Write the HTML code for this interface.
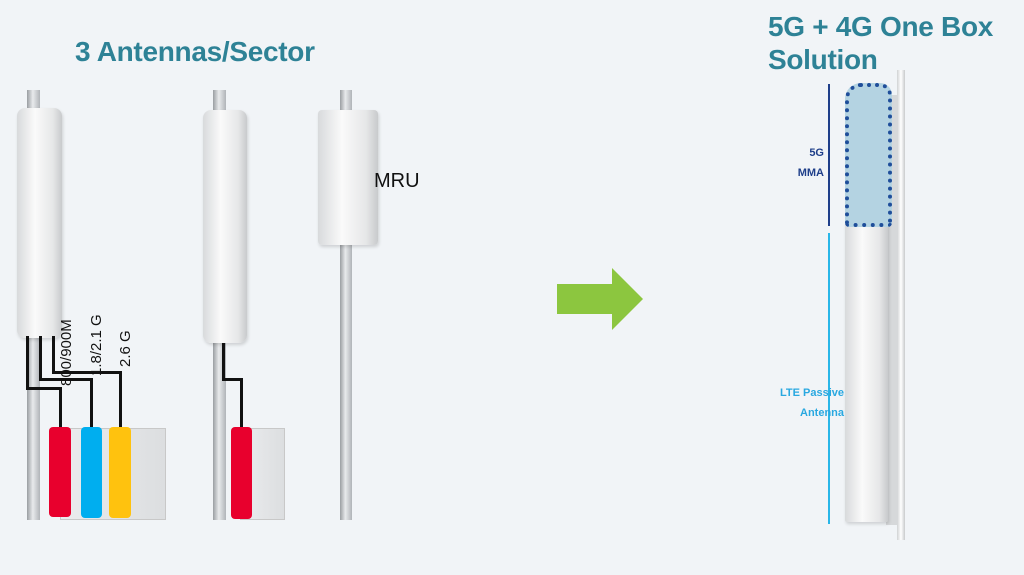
<!DOCTYPE html><html><head><style>
body{margin:0;width:1024px;height:575px;background:#f1f4f7;position:relative;overflow:hidden;font-family:"Liberation Sans",sans-serif}
.a{position:absolute}
.pole{position:absolute;background:linear-gradient(90deg,#9a9ea2,#e8eaec 45%,#b0b4b8);}
.ant{position:absolute;border-radius:8px;background:linear-gradient(90deg,#d8dadc,#fafafa 40%,#e6e7e8 80%,#c8cacc);box-shadow:1px 2px 3px rgba(0,0,0,.15)}
.k{position:absolute;background:#111}
.rb{position:absolute;border-radius:4px}
.gb{position:absolute;background:linear-gradient(90deg,#ebecee,#dcdee0);border:1px solid #c8c8c8}
.rot{position:absolute;transform:rotate(-90deg);transform-origin:left top;font-size:15px;color:#111;white-space:nowrap}
</style></head><body>
<div class="a" style="left:75px;top:36px;font-size:28px;font-weight:bold;color:#2e8296;letter-spacing:-0.3px">3 Antennas/Sector</div>
<div class="a" style="left:768px;top:10px;font-size:28px;font-weight:bold;color:#2e8296;line-height:33px;letter-spacing:-0.3px">5G + 4G One Box<br>Solution</div>

<div class="pole" style="left:27px;top:90px;width:13px;height:430px"></div>
<div class="pole" style="left:213px;top:90px;width:13px;height:430px"></div>
<div class="pole" style="left:340px;top:90px;width:12px;height:430px"></div>
<div class="ant" style="left:17px;top:108px;width:45px;height:230px"></div>
<div class="ant" style="left:203px;top:110px;width:44px;height:233px"></div>
<div class="ant" style="left:318px;top:110px;width:60px;height:135px;border-radius:4px"></div>
<div class="a" style="left:374px;top:170px;font-size:20px;color:#111">MRU</div>

<div class="gb" style="left:60px;top:428px;width:104px;height:90px"></div>
<div class="gb" style="left:240px;top:428px;width:43px;height:90px"></div>

<div class="k" style="left:26px;top:336px;width:3px;height:54px"></div>
<div class="k" style="left:26px;top:387px;width:36px;height:3px"></div>
<div class="k" style="left:59px;top:387px;width:3px;height:42px"></div>
<div class="k" style="left:39px;top:336px;width:3px;height:45px"></div>
<div class="k" style="left:39px;top:378px;width:54px;height:3px"></div>
<div class="k" style="left:90px;top:378px;width:3px;height:50px"></div>
<div class="k" style="left:52px;top:336px;width:3px;height:38px"></div>
<div class="k" style="left:52px;top:371px;width:70px;height:3px"></div>
<div class="k" style="left:119px;top:371px;width:3px;height:57px"></div>
<div class="k" style="left:222px;top:343px;width:3px;height:38px"></div>
<div class="k" style="left:222px;top:378px;width:21px;height:3px"></div>
<div class="k" style="left:240px;top:378px;width:3px;height:50px"></div>

<div class="rb" style="left:49px;top:427px;width:22px;height:90px;background:#e8002d"></div>
<div class="rb" style="left:81px;top:427px;width:21px;height:91px;background:#00aeef"></div>
<div class="rb" style="left:109px;top:427px;width:22px;height:91px;background:#ffc20e"></div>
<div class="rb" style="left:231px;top:427px;width:21px;height:92px;background:#e8002d"></div>

<div class="rot" style="left:58px;top:386px">800/900M</div>
<div class="rot" style="left:88px;top:376px">1.8/2.1 G</div>
<div class="rot" style="left:117px;top:367px">2.6 G</div>

<svg class="a" style="left:555px;top:266px" width="92" height="66"><polygon points="2,18 57,18 57,2 88,33 57,64 57,48 2,48" fill="#8cc63f"/></svg>

<div class="a" style="left:897px;top:70px;width:8px;height:470px;background:linear-gradient(90deg,#d0d2d4,#fff,#c8cacc)"></div>
<div class="a" style="left:886px;top:95px;width:12px;height:430px;background:#d6d8da"></div>
<div class="ant" style="left:845px;top:222px;width:43px;height:300px;border-radius:2px"></div>
<div class="a" style="left:845px;top:83px;width:39px;height:136px;background:#b4d3e2;border:4px dotted #1f4e9a;border-radius:16px 12px 4px 4px"></div>
<div class="a" style="left:828px;top:84px;width:2px;height:142px;background:#1f3f8a"></div>
<div class="a" style="left:828px;top:233px;width:2px;height:291px;background:#29b6e8"></div>
<div class="a" style="left:780px;top:143px;width:44px;text-align:right;font-size:11px;font-weight:bold;color:#1f3f8a;line-height:20px">5G<br>MMA</div>
<div class="a" style="left:760px;top:383px;width:84px;text-align:right;font-size:11px;font-weight:bold;color:#29a8e0;line-height:20px">LTE Passive<br>Antenna</div>
</body></html>
